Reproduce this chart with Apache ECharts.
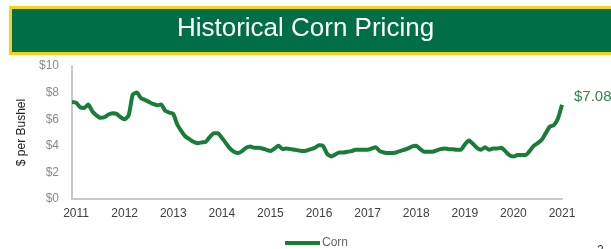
<!DOCTYPE html>
<html>
<head>
<meta charset="utf-8">
<script src="https://cdn.jsdelivr.net/npm/echarts@6/dist/echarts.min.js"></script>
<style>
html,body{margin:0;padding:0;background:#fff;}
#c{width:611px;height:249px;}
</style>
</head>
<body>
<div id="c"></div>
<script>
// Monthly corn price, Dec 2010 .. Jan 2021 ($ per bushel)
var startYear = 2010, startMonth = 12;
var prices = [
  7.3, 7.25, 6.9, 6.85, 7.1, 6.6, 6.3, 6.1, 6.15, 6.35, 6.45, 6.4,
  6.15, 6.0, 6.3, 7.85, 8.0, 7.6, 7.45, 7.3, 7.15, 7.05, 7.1, 6.65,
  6.5, 6.4, 5.6, 5.1, 4.7, 4.5, 4.3, 4.2, 4.25, 4.3, 4.65, 4.95,
  4.95, 4.6, 4.2, 3.8, 3.55, 3.45, 3.6, 3.85, 3.95, 3.85, 3.85, 3.8,
  3.7, 3.6, 3.8, 4.0, 3.75, 3.8, 3.75, 3.7, 3.65, 3.6, 3.65, 3.75,
  3.85, 4.05, 4.0, 3.4, 3.2, 3.35, 3.5, 3.5, 3.55, 3.6, 3.7, 3.7,
  3.7, 3.7, 3.8, 3.9, 3.6, 3.5, 3.45, 3.45, 3.5, 3.6, 3.7, 3.8,
  3.95, 4.0, 3.75, 3.55, 3.55, 3.55, 3.65, 3.75, 3.8, 3.75, 3.75, 3.7,
  3.7, 4.1, 4.4, 4.15, 3.85, 3.7, 3.9, 3.7, 3.8, 3.8, 3.85, 3.6,
  3.3, 3.2, 3.3, 3.3, 3.3, 3.6, 4.0, 4.2, 4.45, 4.95, 5.45, 5.55,
  6.05, 7.08
];
var yTicks = [0, 2, 4, 6, 8, 10];
var seriesName = 'Corn';
var titleText = 'Historical Corn Pricing';
var yAxisTitle = '$ per Bushel';

var months = [];
for (var i = 0; i < prices.length; i++) {
  var m = (startMonth - 1 + i) % 12 + 1;
  var y = startYear + Math.floor((startMonth - 1 + i) / 12);
  months.push(y + '-' + (m < 10 ? '0' + m : m));
}

var chart = echarts.init(document.getElementById('c'), null, {renderer: 'canvas'});
chart.setOption({
  animation: false,
  backgroundColor: '#ffffff',
  textStyle: {fontFamily: 'Liberation Sans, Arial, sans-serif'},
  graphic: [
    {type: 'rect', left: 9, top: 6, shape: {width: 610, height: 46},
     style: {fill: '#006f47', stroke: '#f0d31a', lineWidth: 3}},
    {type: 'text', left: 'center', top: 16,
     style: {text: titleText, fill: '#ffffff', font: '26px "Liberation Sans", Arial, sans-serif'}},
    {type: 'text', left: 597, top: 245,
     style: {text: '2', fill: '#333', font: '12px "Liberation Sans", Arial, sans-serif'}}
  ],
  grid: {left: 72, right: 49, top: 66, bottom: 50, containLabel: false},
  legend: {
    data: [seriesName], left: 280, top: 232, icon: 'rect', itemWidth: 35, itemHeight: 4,
    textStyle: {color: '#666', fontSize: 12, padding: [0, 0, 0, -3]}
  },
  xAxis: {
    type: 'category', data: months, boundaryGap: false,
    axisLine: {lineStyle: {color: '#c8c8c8', width: 2}},
    axisTick: {show: false},
    axisLabel: {
      color: '#404040', fontSize: 12, margin: 9,
      interval: function (idx, val) { return val.slice(5) === '01'; },
      formatter: function (val) { return val.slice(0, 4); }
    },
    splitLine: {show: false}
  },
  yAxis: {
    type: 'value', min: 0, max: 10, interval: 2,
    name: yAxisTitle, nameLocation: 'middle', nameGap: 42, nameRotate: 90,
    nameTextStyle: {color: '#222', fontSize: 12},
    axisLine: {show: true, lineStyle: {color: '#c8c8c8', width: 2}},
    axisTick: {show: false},
    axisLabel: {color: '#8a8a8a', fontSize: 12, margin: 13,
      formatter: function (v) { return yTicks.indexOf(v) >= 0 ? '$' + v : ''; }},
    splitLine: {show: false}
  },
  series: [{
    name: seriesName, type: 'line', data: prices, showSymbol: false, symbol: 'none',
    smooth: 0.2,
    lineStyle: {color: '#187d37', width: 4},
    itemStyle: {color: '#187d37'},
    endLabel: {show: true, color: '#2a8a50', fontSize: 15, offset: [4, -8],
      formatter: function (p) { return '$' + p.value.toFixed(2); }}
  }]
});
</script>
</body>
</html>
